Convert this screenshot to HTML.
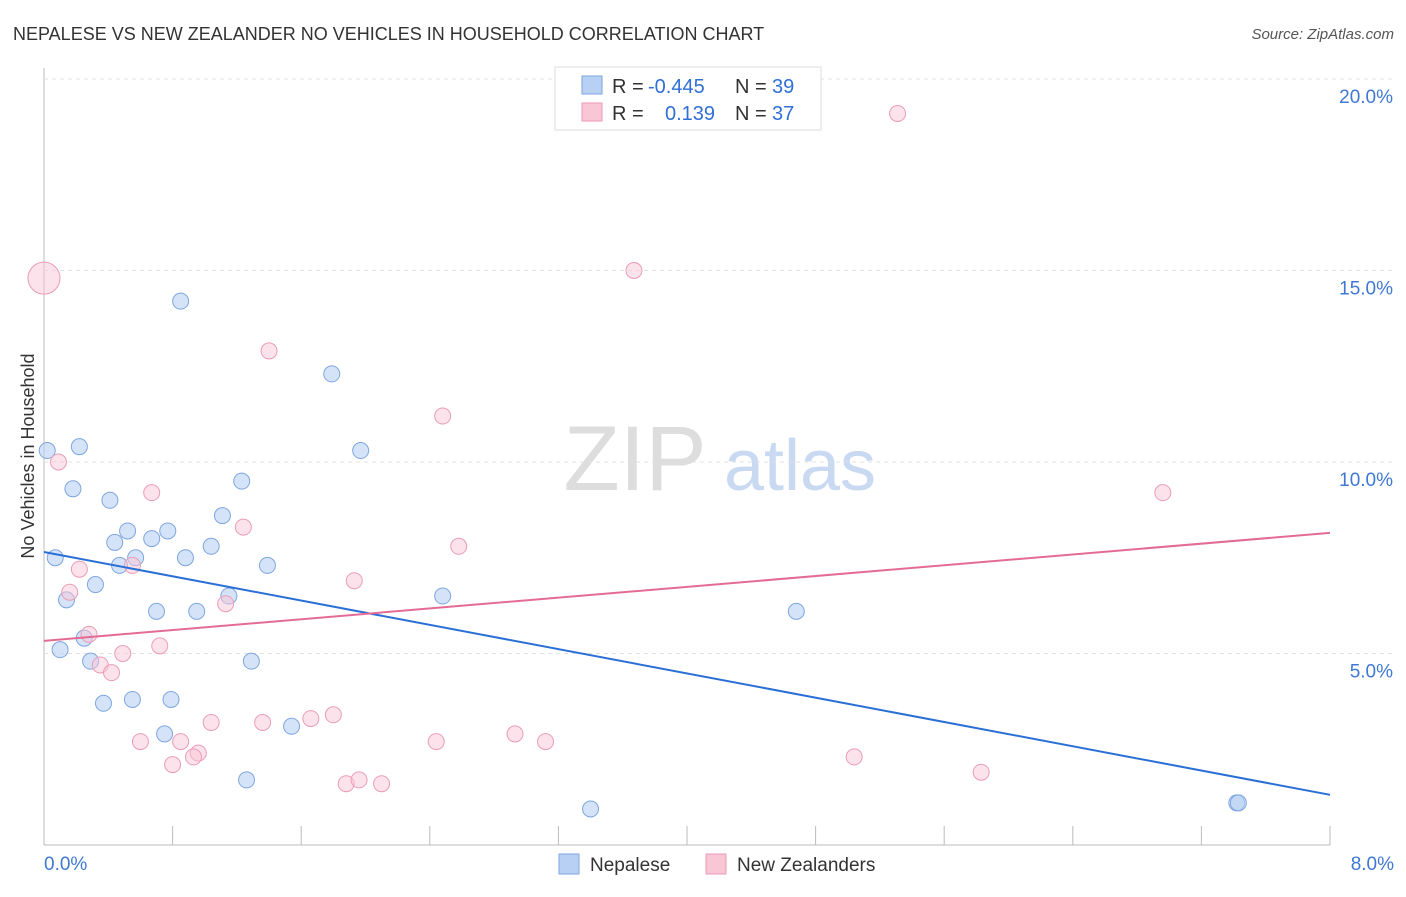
<!DOCTYPE html>
<html><head><meta charset="utf-8"><style>
body{margin:0;background:#fff;font-family:"Liberation Sans",sans-serif}
svg text{font-family:"Liberation Sans",sans-serif}
</style></head><body>
<svg id="c" width="1406" height="892" xmlns="http://www.w3.org/2000/svg">
<text x="13" y="40" font-size="18" fill="#333">NEPALESE VS NEW ZEALANDER NO VEHICLES IN HOUSEHOLD CORRELATION CHART</text>
<text x="1394" y="39" font-size="15" fill="#555" font-style="italic" text-anchor="end">Source: ZipAtlas.com</text>
<text x="34" y="456" font-size="18" fill="#333" text-anchor="middle" transform="rotate(-90 34 456)">No Vehicles in Household</text>
<g>
<text x="635" y="490" font-size="92" fill="#ddd" text-anchor="middle" font-family="Liberation Serif">ZIP</text>
<text x="800" y="490" font-size="72" fill="#c9d9f2" text-anchor="middle">atlas</text>
</g>
<g id="grid"></g><g id="marks"></g><g id="trends"></g>
<g>
<rect x="555" y="67" width="266" height="63" fill="#fff" stroke="#ddd"/>
<rect x="582" y="76" width="20" height="18" fill="#b8d0f4" stroke="#7ea6e0"/>
<rect x="582" y="103" width="20" height="18" fill="#f9c6d6" stroke="#ec9ab4"/>
<text x="612" y="93" font-size="20" fill="#333">R =</text>
<text x="648" y="93" font-size="20" fill="#2f6fd6">-0.445</text>
<text x="735" y="93" font-size="20" fill="#333">N =</text>
<text x="772" y="93" font-size="20" fill="#2f6fd6">39</text>
<text x="612" y="120" font-size="20" fill="#333">R =</text>
<text x="665" y="120" font-size="20" fill="#2f6fd6">0.139</text>
<text x="735" y="120" font-size="20" fill="#333">N =</text>
<text x="772" y="120" font-size="20" fill="#2f6fd6">37</text>
</g>
<g>
<rect x="559" y="854" width="20" height="20" fill="#b8d0f4" stroke="#7ea6e0"/>
<text x="590" y="871" font-size="19" fill="#333">Nepalese</text>
<rect x="706" y="854" width="20" height="20" fill="#f9c6d6" stroke="#ec9ab4"/>
<text x="737" y="871" font-size="19" fill="#333">New Zealanders</text>
</g>
</svg>
<script>
const xTicks=[0,0.8,1.6,2.4,3.2,4,4.8,5.6,6.4,7.2,8];
const yTicks=[5,10,15,20];
const yTickLabels=["5.0%","10.0%","15.0%","20.0%"];
const blueX=[0.02,0.22,0.85,1.79,1.97,0.18,0.41,1.23,1.11,0.52,0.77,0.44,0.67,1.04,0.07,0.57,0.47,0.88,1.39,0.32,0.14,1.15,0.70,0.95,2.48,4.68,0.25,0.10,0.29,1.29,0.37,0.55,0.79,0.75,1.54,1.26,3.40,7.42,7.43];
const blueY=[10.3,10.4,14.2,12.3,10.3,9.3,9.0,9.5,8.6,8.2,8.2,7.9,8.0,7.8,7.5,7.5,7.3,7.5,7.3,6.8,6.4,6.5,6.1,6.1,6.5,6.1,5.4,5.1,4.8,4.8,3.7,3.8,3.8,2.9,3.1,1.7,0.94,1.1,1.1];
const pinkX=[0.0,5.31,3.67,1.40,2.48,0.09,0.67,6.96,1.24,2.58,0.22,0.55,1.93,0.16,1.13,0.28,0.72,0.49,0.35,0.42,1.04,1.36,1.66,1.80,0.60,0.85,0.96,0.93,0.80,2.44,2.93,3.12,5.04,5.83,1.88,1.96,2.10];
const pinkY=[14.8,19.1,15.0,12.9,11.2,10.0,9.2,9.2,8.3,7.8,7.2,7.3,6.9,6.6,6.3,5.5,5.2,5.0,4.7,4.5,3.2,3.2,3.3,3.4,2.7,2.7,2.4,2.3,2.1,2.7,2.9,2.7,2.3,1.9,1.6,1.7,1.6];
const pinkR=[16,8,8,8,8,8,8,8,8,8,8,8,8,8,8,8,8,8,8,8,8,8,8,8,8,8,8,8,8,8,8,8,8,8,8,8,8];
const blueTrend=[7.65,1.31];
const pinkTrend=[5.33,8.15];
const NS="http://www.w3.org/2000/svg";
const X=v=>44+v*160.75, Y=v=>845-v*38.3;
function mk(t,a,p){const e=document.createElementNS(NS,t);for(const k in a)e.setAttribute(k,a[k]);p.appendChild(e);return e;}
const g=document.getElementById('grid'),m=document.getElementById('marks'),tr=document.getElementById('trends');
mk('line',{x1:44,y1:68,x2:44,y2:845,stroke:'#bbb'},g);
mk('line',{x1:44,y1:845,x2:1330,y2:845,stroke:'#bbb'},g);
yTicks.forEach((v,i)=>{
 const l=mk('line',{x1:44,y1:Y(v),x2:1394,y2:Y(v),stroke:'#e0e0e0','stroke-dasharray':'4,4'},g);
 
 
 const t=mk('text',{x:1393,y:Y(v)+24,'font-size':19,fill:'#3f78d4','text-anchor':'end'},g);
 t.textContent=yTickLabels[i];
 
 
});
xTicks.forEach(v=>{
 const l=mk('line',{x1:X(v),y1:826,x2:X(v),y2:845,stroke:'#bbb'},g);
 
 
});
const t0=mk('text',{x:44,y:870,'font-size':19,fill:'#3f78d4'},g);t0.textContent='0.0%';


const t8=mk('text',{x:1394,y:870,'font-size':19,fill:'#3f78d4','text-anchor':'end'},g);t8.textContent='8.0%';


blueX.forEach((v,i)=>{
 const c=mk('circle',{cx:X(v),cy:Y(blueY[i]),r:8,fill:'#b8d0f4','fill-opacity':0.6,stroke:'#7ea6e0','stroke-width':1},m);
 
 
});
pinkX.forEach((v,i)=>{
 const c=mk('circle',{cx:X(v),cy:Y(pinkY[i]),r:pinkR[i],fill:'#f9c6d6','fill-opacity':0.5,stroke:'#eb9db6','stroke-width':1},m);
 
 
});
const bl=mk('line',{x1:X(0),y1:Y(blueTrend[0]),x2:X(8),y2:Y(blueTrend[1]),stroke:'#2a6fd6','stroke-width':2},tr);


const pl=mk('line',{x1:X(0),y1:Y(pinkTrend[0]),x2:X(8),y2:Y(pinkTrend[1]),stroke:'#e36b95','stroke-width':2},tr);


</script>
</body></html>
